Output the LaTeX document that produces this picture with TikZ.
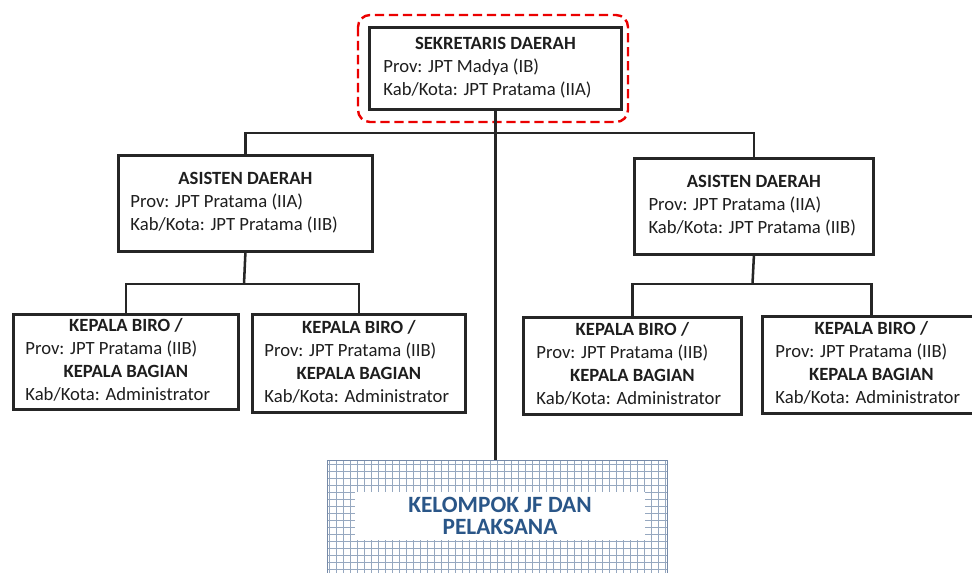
\documentclass[tikz,border=0pt]{standalone}
\usepackage{fontspec}
\setmainfont{Carlito}

\definecolor{garis}{RGB}{38,38,38}
\definecolor{teks}{RGB}{30,30,30}
\definecolor{merah}{RGB}{235,0,0}
\definecolor{kisi}{RGB}{150,168,192}
\definecolor{tepijf}{RGB}{118,138,168}
\definecolor{biruteks}{RGB}{42,86,136}

% baris judul: lebar kolom tetap, teks di tengah
\newcommand{\judul}[2]{\multicolumn{1}{@{}c@{}}{\makebox[#1]{\bfseries #2}}}
\newcommand{\subjudul}[1]{\multicolumn{1}{@{}c@{}}{\bfseries #1}}

\tikzset{every picture/.style={line width=0.75pt}}
\tikzset{
  kotak/.style={draw=garis, line width=2.1pt, fill=white, anchor=north west, text=teks,
    inner sep=1pt, font=\fontsize{14}{17.25}\selectfont},
  garis hubung/.style={draw=garis, line width=1.9pt},
}

\begin{document}
\begin{tikzpicture}[x=0.75pt,y=0.75pt,yscale=-1,xscale=1]
\useasboundingbox (0,0) rectangle (972,573);

%Shape: Rectangle [sekretaris daerah]
\node[kotak, minimum width=189pt, minimum height=61.5pt] (sekda) at (368,26)
  {\begin{tabular}{@{}l@{}}\judul{168pt}{SEKRETARIS DAERAH}\\ Prov: JPT Madya (IB)\\ Kab/Kota: JPT Pratama (IIA)\end{tabular}};
%Shape: Rounded Rect [sorotan]
\draw [color=merah, line width=1.8pt, dash pattern={on 7pt off 3.5pt}, rounded corners=9pt] (358,15) rectangle (628,122);

%Shape: Rectangle [asisten kiri]
\node[kotak, minimum width=190.5pt, minimum height=72pt] (asL) at (117,154)
  {\begin{tabular}{@{}l@{}}\judul{172.5pt}{ASISTEN DAERAH}\\ Prov: JPT Pratama (IIA)\\ Kab/Kota: JPT Pratama (IIB)\end{tabular}};
%Shape: Rectangle [asisten kanan]
\node[kotak, minimum width=179.25pt, minimum height=72pt] (asR) at (633,157)
  {\begin{tabular}{@{}l@{}}\judul{158pt}{ASISTEN DAERAH}\\ Prov: JPT Pratama (IIA)\\ Kab/Kota: JPT Pratama (IIB)\end{tabular}};

%Shape: Rectangle [kepala biro / bagian]
\node[kotak, minimum width=168.75pt, minimum height=71.25pt] (kbL1) at (12,313)
  {\begin{tabular}{@{}l@{}}\judul{150.75pt}{KEPALA BIRO /}\\ Prov: JPT Pratama (IIB)\\ \subjudul{KEPALA BAGIAN}\\ Kab/Kota: Administrator\end{tabular}};
\node[kotak, minimum width=159.75pt, minimum height=73.5pt] (kbL2) at (251,313)
  {\begin{tabular}{@{}l@{}}\judul{141.75pt}{KEPALA BIRO /}\\ Prov: JPT Pratama (IIB)\\ \subjudul{KEPALA BAGIAN}\\ Kab/Kota: Administrator\end{tabular}};
\node[kotak, minimum width=163.5pt, minimum height=72.75pt] (kbR1) at (522,316)
  {\begin{tabular}{@{}l@{}}\judul{144pt}{KEPALA BIRO /}\\ Prov: JPT Pratama (IIB)\\ \subjudul{KEPALA BAGIAN}\\ Kab/Kota: Administrator\end{tabular}};
\node[kotak, minimum width=163.5pt, minimum height=72.75pt] (kbR2) at (761,315)
  {\begin{tabular}{@{}l@{}}\judul{144pt}{KEPALA BIRO /}\\ Prov: JPT Pratama (IIB)\\ \subjudul{KEPALA BAGIAN}\\ Kab/Kota: Administrator\end{tabular}};

%Shape: Rectangle [kelompok jf, kisi-kisi]
\node[draw=tepijf, line width=1pt, anchor=north west, minimum width=255pt, minimum height=90pt,
  path picture={\draw[kisi, line width=0.55pt, step=5.25pt] (path picture bounding box.south west) grid (path picture bounding box.north east);}] (jf) at (327,460) {};
\node[fill=white, minimum width=217.5pt, minimum height=36pt, align=center, text=biruteks,
  font=\fontsize{17.5}{16}\selectfont\bfseries] (jfteks) at (500,516) {KELOMPOK JF DAN\\PELAKSANA};

%Straight Lines [penghubung]
\coordinate (cabang) at (495,133);
\coordinate (cabangL) at (244,284);
\coordinate (cabangR) at (752.5,284);
\draw[garis hubung] (sekda.south) -- (sekda.south |- jf.north);
\draw[garis hubung] (asL.north) |- (cabang) -| (asR.north);
\draw[garis hubung] (asL.south) -- (cabangL);
\draw[garis hubung] (kbL1.north) |- (cabangL) -| (kbL2.north);
\draw[garis hubung] (asR.south) -- (cabangR);
\draw[garis hubung] (kbR1.north) |- (cabangR) -| (kbR2.north);

\end{tikzpicture}
\end{document}
